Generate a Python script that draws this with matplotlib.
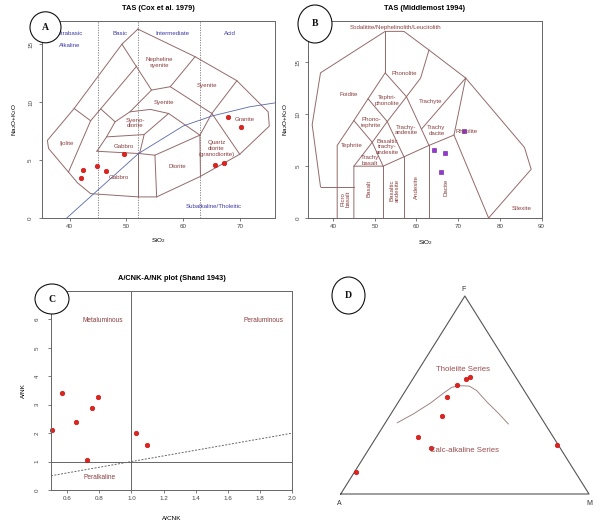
import numpy as np
import matplotlib
matplotlib.use("Agg")
import matplotlib.pyplot as plt
from matplotlib.patches import Ellipse

plt.rcParams['font.family'] = ['Liberation Sans', 'DejaVu Sans']
plt.rcParams['mathtext.fontset'] = 'custom'
plt.rcParams['mathtext.rm'] = 'Liberation Sans'
plt.rcParams['mathtext.it'] = 'Liberation Sans:italic'

# ---------------- datos ----------------
# A: TAS (Cox et al. 1979)
sio2_a = [42.3, 42.0, 44.8, 46.4, 49.5, 65.5, 67.1, 67.8, 70.2]
alk_a = [4.12, 3.46, 4.47, 4.06, 5.48, 4.58, 4.76, 8.73, 7.87]

cox_outer = [(52.0, 16.3), (62.05, 13.92), (69.4, 11.85), (73.7, 9.74), (74.9, 9.16),
             (75.1, 7.93), (69.9, 5.5), (62.9, 3.57), (55.3, 1.82), (52.1, 1.82),
             (43.7, 2.1), (41.4, 3.03), (36.3, 6.0), (36.1, 6.7), (40.8, 9.45),
             (49.2, 15.0), (52.0, 16.3)]
cox_lines = [
    [(49.2, 15.0), (54.4, 11.04), (57.7, 11.33), (62.05, 13.92)],
    [(57.7, 11.33), (65.0, 9.02), (69.4, 11.85)],
    [(65.0, 9.02), (69.9, 5.5)],
    [(65.0, 9.02), (62.9, 7.15), (63.0, 3.54)],
    [(51.8, 13.11), (43.7, 8.39)],
    [(40.8, 9.45), (43.7, 8.39), (39.8, 3.96)],
    [(45.5, 9.4), (48.0, 8.3), (46.5, 7.0), (44.8, 5.76)],
    [(54.4, 11.04), (50.6, 9.16)],
    [(48.0, 8.3), (50.6, 9.16), (54.2, 9.37), (57.4, 9.02), (62.9, 7.15)],
    [(57.4, 9.02), (53.1, 7.2)],
    [(46.5, 7.0), (53.1, 7.2), (52.3, 5.56)],
    [(44.8, 5.76), (52.3, 5.56), (55.0, 5.42), (55.3, 1.82)],
    [(52.1, 5.56), (52.1, 1.82)],
    [(55.0, 5.42), (62.9, 7.15)],
]
irvine_x = [39.5, 52.1, 60.0, 65.0, 71.7, 77.0]
irvine_y = [0.0, 5.56, 7.95, 8.8, 9.6, 10.0]
cox_div = [45, 52, 63]

cox_campos = [("Nepheline\nsyenite", 55.8, 13.4), ("Syenite", 64.2, 11.47), ("Syenite", 56.5, 9.94),
              ("Syeno-\ndiorite", 51.5, 8.2), ("Ijolite", 39.5, 6.43), ("Gabbro", 49.6, 6.14),
              ("Gabbro", 48.6, 3.46), ("Diorite", 59.0, 4.41),
              ("Quartz\ndiorite\n(granodiorite)", 65.8, 6.0), ("Granite", 70.8, 8.5)]
cox_series = [("Ultrabasic", 39.9, 15.94), ("Alkaline", 40.1, 14.9), ("Basic", 48.9, 15.94),
              ("Intermediate", 58.0, 15.94), ("Acid", 68.1, 15.94),
              ("Subalkaline/Tholeitic", 65.3, 0.95)]

# B: TAS (Middlemost 1994)
sio2_b = [71.3, 64.1, 66.8, 65.8]
alk_b = [8.42, 6.56, 6.30, 4.40]

mid_outer = [(37, 3), (35, 9), (37, 14), (52.5, 18), (57, 18), (63, 16.2), (71.8, 13.5),
             (85.9, 6.8), (87.5, 4.7), (77.3, 0)]
mid_lines = [
    [(37, 3), (45, 3)],
    [(41, 0), (41, 7), (45, 9.4), (48.4, 11.5), (52.5, 14), (57.6, 11.7), (61, 13.5), (63, 16.2)],
    [(52.5, 14), (52.5, 18)],
    [(45, 0), (45, 5), (49.4, 7.3), (53, 9.3), (57.6, 11.7)],
    [(45, 5), (52, 5), (57, 5.9), (63, 7), (69, 8), (71.8, 13.5)],
    [(52, 0), (52, 5)], [(57, 0), (57, 5.9)], [(63, 0), (63, 7)],
    [(49.4, 7.3), (52, 5)],
    [(45, 9.4), (49.4, 7.3)],
    [(48.4, 11.5), (53, 9.3), (57, 5.9)],
    [(57.6, 11.7), (63, 7)],
    [(61.2, 8.57), (71.8, 13.5)],
    [(69, 8), (77.3, 0)],
]
mid_campos = [("Sodalitite/Nephelinolith/Leucitolith", 55.0, 18.4, 0), ("Phonolite", 57.0, 13.9, 0),
              ("Foidite", 43.8, 11.9, 0), ("Tephri-\nphonolite", 53.0, 11.35, 0),
              ("Trachyte", 63.4, 11.2, 0), ("Phono-\ntephrite", 49.1, 9.2, 0),
              ("Trachy-\nandesite", 57.6, 8.5, 0), ("Trachy\ndacite", 64.8, 8.45, 0),
              ("Rhyolite", 72.05, 8.3, 0), ("Tephrite", 44.4, 7.0, 0),
              ("Basaltic\ntrachy-\nandesite", 53.0, 6.85, 0), ("Trachy\nbasalt", 48.8, 5.56, 0),
              ("Picro\nbasalt", 43.0, 1.86, 90), ("Basalt", 48.7, 2.83, 90),
              ("Basaltic\nandesite", 54.8, 2.67, 90), ("Andesite", 60.0, 3.0, 90),
              ("Dacite", 67.2, 3.0, 90), ("Silexite", 85.3, 0.9, 0)]

# C: Shand 1943
acnk = [0.508, 0.566, 0.653, 0.753, 0.794, 0.726, 1.028, 1.099]
ank = [2.10, 3.42, 2.38, 2.89, 3.26, 1.06, 2.02, 1.57]

# D: AFM
afm_a = [0.883, 0.547, 0.519, 0.393, 0.328, 0.257, 0.203, 0.182, 0.004]
afm_f = [0.111, 0.286, 0.234, 0.395, 0.488, 0.549, 0.582, 0.592, 0.247]
afm_m = [0.006, 0.167, 0.247, 0.212, 0.184, 0.194, 0.215, 0.226, 0.749]
curva_a = [0.592, 0.506, 0.411, 0.332, 0.283, 0.246, 0.210, 0.191, 0.179, 0.161, 0.148]
curva_f = [0.360, 0.404, 0.458, 0.509, 0.539, 0.547, 0.545, 0.522, 0.466, 0.408, 0.354]
curva_m = [0.048, 0.090, 0.131, 0.159, 0.178, 0.207, 0.245, 0.287, 0.355, 0.431, 0.498]

# ---------------- estilo ----------------
LINEA = '#946a6a'
TEXTO = '#8b3e3e'
AZUL = '#3a3aa8'
ROJO = '#e0231d'
FS_T = 5.3
FS_C = 4.4
W, H = 604, 526


def caja(px0, py0, px1, py1):
    # convierte una caja en pixeles a fracciones de figura
    return [px0 / W, 1 - py1 / H, (px1 - px0) / W, (py1 - py0) / H]


def estilo(ax, ypad):
    for s in ax.spines.values():
        s.set_color('#666666')
        s.set_linewidth(0.7)
    ax.tick_params(length=2.5, width=0.6, colors='#666666', labelsize=4.5,
                   labelcolor='#444444', pad=1.8)
    ax.tick_params(axis='y', labelrotation=90, pad=ypad)
    for lab in ax.get_yticklabels():
        lab.set_va('center')


def polilinea(ax, pts, **kw):
    xs, ys = zip(*pts)
    ax.plot(xs, ys, color=LINEA, lw=0.7, **kw)


def tern(a, f, m):
    a, f, m = np.asarray(a), np.asarray(f), np.asarray(m)
    s = a + f + m
    return (m + f / 2) / s, f / s * np.sqrt(3) / 2


fig = plt.figure(figsize=(W / 100, H / 100), dpi=100)

# ---------- A ----------
axA = fig.add_axes(caja(42, 21, 275, 218))
axA.set_xlim(35.15, 76.1)
axA.set_ylim(0, 17)
axA.set_xticks([40, 50, 60, 70])
axA.set_yticks([0, 5, 10, 15])
estilo(axA, 4.0)
for xv in cox_div:
    axA.axvline(xv, color='#777777', lw=0.6, ls=(0, (1.5, 1.5)))
polilinea(axA, cox_outer)
for l in cox_lines:
    polilinea(axA, l)
axA.plot(irvine_x, irvine_y, color='#5a68a8', lw=0.6)
for t, x, y in cox_campos:
    axA.text(x, y, t, ha='center', va='center', fontsize=FS_C, color=TEXTO, linespacing=1.15)
for t, x, y in cox_series:
    axA.text(x, y, t, ha='center', va='center', fontsize=FS_C, color=AZUL)
axA.plot(sio2_a, alk_a, 'o', color=ROJO, mec='#c01010', ms=3.3, mew=0.4)
axA.set_title("TAS (Cox et al. 1979)", fontsize=FS_T, fontweight='bold', pad=8)
axA.text(0.5, -0.115, r'SiO$_2$', transform=axA.transAxes, ha='center', va='center', fontsize=4.6)
axA.text(-0.118, 0.5, r'Na$_2$O+K$_2$O', transform=axA.transAxes, rotation=90,
         ha='center', va='center', fontsize=4.6)

# ---------- B ----------
axB = fig.add_axes(caja(308, 21, 542, 218))
axB.set_xlim(34, 90.1)
axB.set_ylim(0, 19)
axB.set_xticks([40, 50, 60, 70, 80, 90])
axB.set_yticks([0, 5, 10, 15])
estilo(axB, 3.0)
polilinea(axB, mid_outer)
for l in mid_lines:
    polilinea(axB, l)
for t, x, y, r in mid_campos:
    axB.text(x, y, t, ha='center', va='center', fontsize=FS_C, color=TEXTO,
             rotation=r, linespacing=1.1)
axB.plot(sio2_b, alk_b, 's', color='#9a35d8', mec='#5d1d8e', ms=3.0, mew=0.4)
axB.set_title("TAS (Middlemost 1994)", fontsize=FS_T, fontweight='bold', pad=8)
axB.text(0.5, -0.127, r'SiO$_2$', transform=axB.transAxes, ha='center', va='center', fontsize=4.6)
axB.text(-0.098, 0.5, r'Na$_2$O+K$_2$O', transform=axB.transAxes, rotation=90,
         ha='center', va='center', fontsize=4.6)

# ---------- C ----------
axC = fig.add_axes(caja(51, 291, 292.3, 490))
axC.set_xlim(0.5, 2.0)
axC.set_ylim(0, 7)
axC.set_xticks([0.6, 0.8, 1.0, 1.2, 1.4, 1.6, 1.8, 2.0])
axC.set_xticklabels(["0.6", "0.8", "1.0", "1.2", "1.4", "1.6", "1.8", "2.0"])
axC.set_yticks(range(7))
estilo(axC, 5.5)
axC.axvline(1.0, color='#666666', lw=0.7)
axC.axhline(1.0, color='#666666', lw=0.7)
axC.plot([0.5, 2.0], [0.5, 2.0], color='#666666', lw=0.7, ls=(0, (2, 1.5)))
axC.text(0.82, 5.95, "Metaluminous", ha='center', va='center', fontsize=4.7, color=TEXTO)
axC.text(1.82, 5.95, "Peraluminous", ha='center', va='center', fontsize=4.7, color=TEXTO)
axC.text(0.80, 0.44, "Peralkaline", ha='center', va='center', fontsize=4.7, color=TEXTO)
axC.plot(acnk, ank, 'o', color=ROJO, mec='#c01010', ms=3.3, mew=0.4, clip_on=False)
axC.set_title("A/CNK-A/NK plot (Shand 1943)", fontsize=FS_T, fontweight='bold', pad=8)
axC.text(0.5, -0.142, "A/CNK", transform=axC.transAxes, ha='center', va='center', fontsize=4.6)
axC.text(-0.116, 0.5, "A/NK", transform=axC.transAxes, rotation=90,
         ha='center', va='center', fontsize=4.6)

# ---------- D ----------
axD = fig.add_axes(caja(340.7, 296, 589, 494))
axD.set_xlim(0, 1)
axD.set_ylim(0, np.sqrt(3) / 2)
axD.axis('off')
tx, ty = tern([1, 0, 0, 1], [0, 1, 0, 0], [0, 0, 1, 0])
axD.plot(tx, ty, color='#555555', lw=0.8, clip_on=False)
cx, cy = tern(curva_a, curva_f, curva_m)
axD.plot(cx, cy, color='#a08585', lw=0.7)
px, py = tern(afm_a, afm_f, afm_m)
axD.plot(px, py, 'o', color=ROJO, mec='#c01010', ms=3.3, mew=0.4, clip_on=False)
for t, (x, y), off in zip(["A", "F", "M"], [(0, 0), (0.5, np.sqrt(3) / 2), (1, 0)],
                          [(-1, -7), (-1, 5), (0, -7)]):
    axD.annotate(t, (x, y), xytext=off, textcoords='offset points', ha='center',
                 va='center', fontsize=5, color='#333333', annotation_clip=False)
axD.text(0.494, 0.630, "Tholeiite Series", transform=axD.transAxes, ha='center',
         va='center', fontsize=5.6, color='#9a4d4d')
axD.text(0.497, 0.219, "Calc-alkaline Series", transform=axD.transAxes, ha='center',
         va='center', fontsize=5.6, color='#9a4d4d')

# ---------- letras de panel ----------
over = fig.add_axes([0, 0, 1, 1])
over.set_xlim(0, W)
over.set_ylim(H, 0)
over.axis('off')
letras = [("A", 45.5, 27.3, 31, 31), ("B", 315, 24, 34, 38),
          ("C", 52, 299, 34, 30), ("D", 348.5, 295.5, 33, 37)]
for t, x, y, w, h in letras:
    over.add_patch(Ellipse((x, y), w, h, facecolor='white', edgecolor='#111111', lw=0.8))
    over.text(x, y, t, ha='center', va='center', fontsize=7, fontweight='bold',
              family='Liberation Serif', color='#111111')

fig.savefig("out.png", dpi=100)
